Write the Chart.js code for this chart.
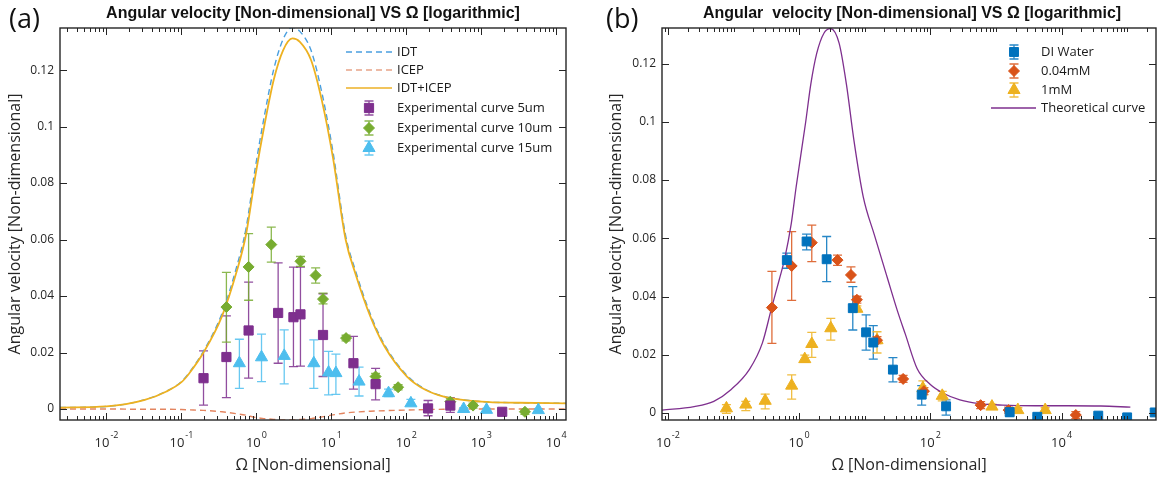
<!DOCTYPE html>
<html>
<head>
<meta charset="utf-8">
<title>Angular velocity vs Omega</title>
<script src="https://cdn.jsdelivr.net/npm/chart.js@4.4.1/dist/chart.umd.min.js"></script>
<style>
  html, body { margin: 0; padding: 0; background: #fff; }
  #page { position: relative; width: 1164px; height: 478px; overflow: hidden; }
  .box { position: absolute; top: 0; width: 582px; height: 478px; }
  .tag { position: absolute; top: -1px; font: 27px "Open Sans", sans-serif; color: #111; }
  .ttl { position: absolute; top: 4px; font: bold 16px "Liberation Sans", Arial, sans-serif; color: #111; white-space: pre; transform: translateX(-50%); }
</style>
</head>
<body>
<div id="page">
  <div class="box" style="left:0"><canvas id="chartA" width="582" height="478"></canvas></div>
  <div class="box" style="left:582px"><canvas id="chartB" width="582" height="478"></canvas></div>
  <div class="tag" style="left:9px">(a)</div>
  <div class="tag" style="left:606px">(b)</div>
  <div class="ttl" style="left:313px">Angular velocity [Non-dimensional] VS Ω [logarithmic]</div>
  <div class="ttl" style="left:912px">Angular  velocity [Non-dimensional] VS Ω [logarithmic]</div>
</div>
<script>
// ---------- panel (a) : theory curves ----------
const omegaTheoryA = [0.0024, 0.01, 0.0316, 0.0631, 0.1, 0.126, 0.195, 0.347, 0.55, 0.724, 0.966, 1.29, 1.70, 2.27, 3.02, 3.80, 5.37, 7.50, 10.5, 15.5, 20.9, 33.1, 51.3, 102, 182, 316, 1000, 3160, 13500];
const idtA = [0.0005, 0.0009, 0.0032, 0.0063, 0.0097, 0.0128, 0.0203, 0.0338, 0.0507, 0.0637, 0.0854, 0.1044, 0.1202, 0.1309, 0.1351, 0.1337, 0.1269, 0.1118, 0.0911, 0.0614, 0.0491, 0.0336, 0.0227, 0.0119, 0.0069, 0.0045, 0.0026, 0.0022, 0.002];
const icepA = [0, 0, -0.0001, -0.0001, -0.0002, -0.0003, -0.0005, -0.001, -0.0017, -0.0022, -0.003, -0.0034, -0.0037, -0.0039, -0.0039, -0.0037, -0.0034, -0.0028, -0.0021, -0.0014, -0.0011, -0.0008, -0.0006, -0.0004, -0.0002, -0.0001, 0, 0, 0];
const idtIcepA = [0.0005, 0.0009, 0.0031, 0.0062, 0.0095, 0.0125, 0.0198, 0.0328, 0.049, 0.0615, 0.0824, 0.101, 0.1165, 0.127, 0.1312, 0.130, 0.1235, 0.109, 0.089, 0.060, 0.048, 0.0328, 0.0221, 0.0115, 0.0067, 0.0044, 0.0026, 0.0022, 0.002];

// ---------- panel (a) : experiments ----------
const omega5 = [0.197, 0.398, 0.787, 1.95, 3.12, 3.87, 7.74, 19.7, 38.9, 195, 386, 1900];
const vel5 = [0.0109, 0.0184, 0.0278, 0.034, 0.0325, 0.0335, 0.0262, 0.0162, 0.0088, 0.0002, 0.0012, -0.0010];
const vel5Lo = [0.0014, 0.0040, 0.0109, 0.0162, 0.0150, 0.0152, 0.0115, 0.0070, 0.0032, -0.0024, -0.0012, -0.0014];
const vel5Hi = [0.0206, 0.0330, 0.0449, 0.0517, 0.0502, 0.0502, 0.0408, 0.0257, 0.0144, 0.0030, 0.0040, -0.0006];

const omega10 = [0.398, 0.787, 1.58, 3.87, 6.17, 7.74, 15.7, 38.9, 77.7, 386, 776, 3820];
const vel10 = [0.0361, 0.0503, 0.0582, 0.0523, 0.0473, 0.0389, 0.0251, 0.0115, 0.0077, 0.0026, 0.0012, -0.0010];
const vel10Lo = [0.0237, 0.0385, 0.0520, 0.0505, 0.0446, 0.0372, 0.0241, 0.0104, 0.0068, 0.0015, 0.0003, -0.0019];
const vel10Hi = [0.0484, 0.0621, 0.0644, 0.0540, 0.0500, 0.0410, 0.0261, 0.0126, 0.0086, 0.0037, 0.0021, -0.0001];

const omega15 = [0.593, 1.17, 2.35, 5.83, 9.18, 11.5, 23.4, 57.9, 115, 582, 1175, 5770];
const vel15 = [0.0162, 0.0183, 0.0188, 0.0162, 0.0129, 0.0127, 0.0097, 0.0056, 0.0020, 0.0000, -0.0003, -0.0004];
const vel15Lo = [0.0073, 0.0097, 0.0089, 0.0073, 0.0050, 0.0052, 0.0046, 0.0044, 0.0012, -0.0005, -0.0008, -0.0009];
const vel15Hi = [0.0247, 0.0265, 0.0280, 0.0245, 0.0204, 0.0194, 0.0148, 0.0070, 0.0034, 0.0005, 0.0002, 0.0001];

// ---------- panel (b) ----------
const omegaTheoryB = [0.00813, 0.0251, 0.0501, 0.0912, 0.175, 0.275, 0.380, 0.501, 0.603, 0.759, 0.902, 1.25, 1.51, 1.85, 2.40, 3.02, 4.07, 5.25, 6.84, 9.48, 14.1, 22.4, 31.6, 41.7, 63.1, 100, 158, 282, 562, 1260, 3980, 12600, 39800, 112000];
const theoryB = [0.0010, 0.0022, 0.0040, 0.0080, 0.0150, 0.0240, 0.0360, 0.0460, 0.0530, 0.0650, 0.0777, 0.0994, 0.1130, 0.1234, 0.1305, 0.1320, 0.1270, 0.1130, 0.0937, 0.0743, 0.0610, 0.0460, 0.0350, 0.0270, 0.0152, 0.0098, 0.0068, 0.0045, 0.0032, 0.0027, 0.0025, 0.0025, 0.0024, 0.0020];

const omegaDI = [0.65, 1.30, 2.63, 6.58, 10.5, 13.5, 26.9, 73.9, 174, 1620, 4270, 36300, 100000, 263000];
const velDI = [0.0525, 0.0589, 0.0528, 0.0360, 0.0277, 0.0242, 0.0149, 0.0063, 0.0023, 0.0003, -0.0013, -0.0009, -0.0015, 0.0002];
const velDILo = [0.0497, 0.0560, 0.0451, 0.0285, 0.0216, 0.0185, 0.0107, 0.0027, -0.0007, -0.0012, -0.0018, -0.0014, -0.0020, -0.0003];
const velDIHi = [0.0549, 0.0614, 0.0606, 0.0434, 0.0337, 0.0300, 0.0190, 0.0094, 0.0045, 0.0018, -0.0008, -0.0004, -0.0010, 0.0007];

const omega004 = [0.385, 0.77, 1.56, 3.85, 6.17, 7.6, 15.4, 38.5, 80, 585, 1560, 16500];
const vel004 = [0.0362, 0.0505, 0.0585, 0.0525, 0.0474, 0.0389, 0.0250, 0.0117, 0.0075, 0.0027, 0.0010, -0.0007];
const vel004Lo = [0.0239, 0.0387, 0.0520, 0.0507, 0.0449, 0.0377, 0.0238, 0.0105, 0.0063, 0.0015, 0.0000, -0.0019];
const vel004Hi = [0.0486, 0.0623, 0.0645, 0.0542, 0.0502, 0.0401, 0.0262, 0.0129, 0.0087, 0.0039, 0.0020, 0.0005];

const omega1 = [0.078, 0.154, 0.304, 0.77, 1.22, 1.56, 3.04, 7.6, 15.4, 77, 152, 870, 2160, 5630];
const vel1 = [0.0016, 0.0029, 0.0042, 0.0094, 0.0185, 0.0237, 0.0291, 0.0358, 0.0250, 0.0085, 0.0059, 0.0022, 0.0010, 0.0010];
const vel1Lo = [-0.0001, 0.0008, 0.0014, 0.0048, 0.0174, 0.0191, 0.0250, 0.0348, 0.0206, 0.0060, 0.0042, 0.0014, 0.0002, 0.0002];
const vel1Hi = [0.0029, 0.0040, 0.0065, 0.0131, 0.0199, 0.0277, 0.0325, 0.0368, 0.0279, 0.0110, 0.0074, 0.0030, 0.0018, 0.0018];

// ---------- ticks ----------
const yTicksA = [0, 0.02, 0.04, 0.06, 0.08, 0.1, 0.12];
const yTicksB = [0, 0.02, 0.04, 0.06, 0.08, 0.1, 0.12];
const xMajorA = [-2, -1, 0, 1, 2, 3, 4];   // labelled decades (10^n)
const xMajorB = [-2, 0, 2, 4];

const FONT = '"Open Sans", sans-serif';
const INK = '#262626';

function pts(xs, ys) {
    return xs.map((x, i) => ({ x: x, y: ys[i] }));
}

// minor/major tick positions 1..9 x 10^n inside the axis range
function logTickList(min, max) {
    const out = [];
    for (let e = Math.floor(Math.log10(min)); e <= Math.ceil(Math.log10(max)); e++) {
        for (let m = 1; m < 10; m++) {
            const v = m * Math.pow(10, e);
            if (v >= min && v <= max) out.push({ value: v });
        }
    }
    return out;
}

function curve(xs, ys, color, width, dash) {
    return {
        data: pts(xs, ys), showLine: true, borderColor: color, borderWidth: width,
        borderDash: dash || [], pointRadius: 0, cubicInterpolationMode: 'monotone', order: 2
    };
}

function points(xs, ys, lo, hi, color, style, r) {
    return {
        data: pts(xs, ys), showLine: false, pointStyle: style, pointRadius: r,
        backgroundColor: color, borderColor: color, borderWidth: 1,
        errLo: lo, errHi: hi, errColor: color, order: 1
    };
}

function drawMarker(ctx, style, x, y, r) {
    ctx.beginPath();
    if (style === 'rect') {
        const s = r * Math.SQRT1_2;
        ctx.rect(x - s, y - s, 2 * s, 2 * s);
    } else if (style === 'rectRot') {
        ctx.moveTo(x, y - r); ctx.lineTo(x + r, y); ctx.lineTo(x, y + r); ctx.lineTo(x - r, y); ctx.closePath();
    } else {
        ctx.moveTo(x, y - r); ctx.lineTo(x + r * 0.866, y + r / 2); ctx.lineTo(x - r * 0.866, y + r / 2); ctx.closePath();
    }
    ctx.fill();
    ctx.stroke();
}

function errBar(ctx, x, y1, y2, cap) {
    ctx.beginPath();
    ctx.moveTo(x, y1); ctx.lineTo(x, y2);
    ctx.moveTo(x - cap, y1); ctx.lineTo(x + cap, y1);
    ctx.moveTo(x - cap, y2); ctx.lineTo(x + cap, y2);
    ctx.stroke();
}

// error bars, drawn through the chart scales
const errorBars = {
    id: 'errorBars',
    beforeDatasetsDraw(chart) {
        const { ctx, chartArea: a } = chart;
        const xs = chart.scales.x, ys = chart.scales.y;
        ctx.save();
        ctx.beginPath();
        ctx.rect(a.left, a.top, a.right - a.left, a.bottom - a.top);
        ctx.clip();
        chart.data.datasets.forEach(ds => {
            if (!ds.errLo) return;
            ctx.strokeStyle = ds.errColor;
            ctx.globalAlpha = 0.85;
            ctx.lineWidth = 1.3;
            ds.data.forEach((p, j) => {
                const px = xs.getPixelForValue(p.x);
                errBar(ctx, px, ys.getPixelForValue(ds.errLo[j]), ys.getPixelForValue(ds.errHi[j]), 4.5);
            });
        });
        ctx.restore();
    }
};

// matlab style box with inner ticks and 10^n labels
const frameTicks = {
    id: 'frameTicks',
    afterDatasetsDraw(chart, args, opts) {
        const { ctx, chartArea: a } = chart;
        const xs = chart.scales.x, ys = chart.scales.y;
        ctx.save();
        ctx.strokeStyle = INK;
        ctx.lineWidth = 1;
        ctx.beginPath();
        xs.ticks.forEach(t => {
            const e = Math.log10(t.value);
            const major = opts.majors.some(m => Math.abs(m - e) < 1e-6);
            const len = major ? 7 : 4;
            const px = Math.round(xs.getPixelForValue(t.value)) + 0.5;
            ctx.moveTo(px, a.bottom); ctx.lineTo(px, a.bottom - len);
            ctx.moveTo(px, a.top); ctx.lineTo(px, a.top + len);
        });
        ys.ticks.forEach(t => {
            const py = Math.round(ys.getPixelForValue(t.value)) + 0.5;
            ctx.moveTo(a.left, py); ctx.lineTo(a.left + 7, py);
            ctx.moveTo(a.right, py); ctx.lineTo(a.right - 7, py);
        });
        ctx.stroke();
        ctx.lineWidth = 1.4;
        ctx.strokeRect(a.left, a.top, a.right - a.left, a.bottom - a.top);

        ctx.fillStyle = INK;
        ctx.textBaseline = 'middle';
        ctx.textAlign = 'left';
        opts.majors.forEach(e => {
            const px = xs.getPixelForValue(Math.pow(10, e));
            ctx.font = '13px ' + FONT;
            const wB = ctx.measureText('10').width;
            ctx.font = '9px ' + FONT;
            const ex = (e < 0 ? '-' : '') + Math.abs(e);
            const wE = ctx.measureText(ex).width;
            const x0 = px - (wB + wE + 1) / 2;
            ctx.font = '13px ' + FONT;
            ctx.fillText('10', x0, a.bottom + 23);
            ctx.font = '9px ' + FONT;
            ctx.fillText(ex, x0 + wB + 1, a.bottom + 15);
        });
        ctx.restore();
    }
};

// legend inside the plot area
const boxLegend = {
    id: 'boxLegend',
    afterDraw(chart, args, opts) {
        const ctx = chart.ctx;
        ctx.save();
        opts.items.forEach(it => {
            ctx.strokeStyle = it.color;
            ctx.fillStyle = it.color;
            if (it.kind === 'line') {
                ctx.lineWidth = it.width;
                ctx.setLineDash(it.dash || []);
                ctx.beginPath();
                ctx.moveTo(opts.lineX0, it.y); ctx.lineTo(opts.lineX1, it.y);
                ctx.stroke();
                ctx.setLineDash([]);
            } else {
                ctx.lineWidth = 1.3;
                ctx.globalAlpha = 0.85;
                errBar(ctx, opts.markX, it.y - 7, it.y + 7, 4.5);
                ctx.globalAlpha = 1;
                ctx.lineWidth = 1;
                drawMarker(ctx, it.style, opts.markX, it.y, it.r);
            }
            ctx.fillStyle = '#1a1a1a';
            ctx.font = '13px ' + FONT;
            ctx.textBaseline = 'middle';
            ctx.fillText(it.text, opts.textX, it.y);
        });
        ctx.restore();
    }
};

function baseOptions(cfg) {
    return {
        responsive: false,
        animation: false,
        events: [],
        layout: { padding: { top: 28, right: cfg.padRight, left: 0, bottom: 0 } },
        plugins: {
            legend: { display: false },
            tooltip: { enabled: false },
            frameTicks: { majors: cfg.majors },
            boxLegend: cfg.legend
        },
        scales: {
            x: {
                type: 'logarithmic',
                min: cfg.xMin, max: cfg.xMax,
                afterBuildTicks: s => { s.ticks = logTickList(cfg.xMin, cfg.xMax); },
                afterFit: s => { s.height = 58; },
                grid: { display: false, drawTicks: false },
                border: { display: false },
                ticks: { display: false },
                title: {
                    display: true, text: 'Ω [Non-dimensional]', color: INK,
                    font: { family: FONT, size: 16 }, padding: { top: 0, bottom: 3 }
                }
            },
            y: {
                min: cfg.yMin, max: cfg.yMax,
                afterBuildTicks: s => { s.ticks = cfg.yTicks.map(v => ({ value: v })); },
                afterFit: s => { s.width = cfg.yWidth; },
                grid: { display: false, drawTicks: false },
                border: { display: false },
                ticks: {
                    padding: 6, color: INK, font: { family: FONT, size: 12 },
                    callback: v => String(+v.toFixed(2))
                },
                title: {
                    display: true, text: 'Angular velocity [Non-dimensional]', color: INK,
                    font: { family: FONT, size: 16 }, padding: { top: cfg.yTitlePad, bottom: 0 }
                }
            }
        }
    };
}

new Chart(document.getElementById('chartA'), {
    type: 'scatter',
    data: {
        datasets: [
            points(omega5, vel5, vel5Lo, vel5Hi, '#7E2F8E', 'rect', 6.5),
            points(omega10, vel10, vel10Lo, vel10Hi, '#77AC30', 'rectRot', 5.5),
            points(omega15, vel15, vel15Lo, vel15Hi, '#4DBEEE', 'triangle', 7),
            curve(omegaTheoryA, idtIcepA, '#EDB120', 1.8),
            curve(omegaTheoryA, icepA, '#E38560', 1.4, [6, 4]),
            curve(omegaTheoryA, idtA, '#4A9FDF', 1.4, [6, 4])
        ]
    },
    options: baseOptions({
        padRight: 16, yWidth: 60, yTitlePad: 6,
        xMin: Math.pow(10, -2.62), xMax: Math.pow(10, 4.13),
        yMin: -0.0039, yMax: 0.1349, yTicks: yTicksA, majors: xMajorA,
        legend: {
            lineX0: 346, lineX1: 392, markX: 369, textX: 397,
            items: [
                { kind: 'line', text: 'IDT', color: '#4A9FDF', width: 1.4, dash: [6, 4], y: 52 },
                { kind: 'line', text: 'ICEP', color: '#E8A488', width: 1.4, dash: [6, 4], y: 70 },
                { kind: 'line', text: 'IDT+ICEP', color: '#F1C45C', width: 2, y: 88 },
                { kind: 'marker', text: 'Experimental curve 5um', color: '#7E2F8E', style: 'rect', r: 6.5, y: 108 },
                { kind: 'marker', text: 'Experimental curve 10um', color: '#77AC30', style: 'rectRot', r: 5.5, y: 128 },
                { kind: 'marker', text: 'Experimental curve 15um', color: '#4DBEEE', style: 'triangle', r: 7, y: 148 }
            ]
        }
    }),
    plugins: [errorBars, frameTicks, boxLegend]
});

new Chart(document.getElementById('chartB'), {
    type: 'scatter',
    data: {
        datasets: [
            points(omegaDI, velDI, velDILo, velDIHi, '#0072BD', 'rect', 6.3),
            points(omega004, vel004, vel004Lo, vel004Hi, '#D95319', 'rectRot', 5.5),
            points(omega1, vel1, vel1Lo, vel1Hi, '#EDB120', 'triangle', 7),
            curve(omegaTheoryB, theoryB, '#7E2F8E', 1.3)
        ]
    },
    options: baseOptions({
        padRight: 1, yWidth: 80, yTitlePad: 25,
        xMin: Math.pow(10, -2.09), xMax: Math.pow(10, 5.44),
        yMin: -0.0024, yMax: 0.1322, yTicks: yTicksB, majors: xMajorB,
        legend: {
            lineX0: 409, lineX1: 454, markX: 432, textX: 459,
            items: [
                { kind: 'marker', text: 'DI Water', color: '#0072BD', style: 'rect', r: 6.3, y: 52 },
                { kind: 'marker', text: '0.04mM', color: '#D95319', style: 'rectRot', r: 5.5, y: 71 },
                { kind: 'marker', text: '1mM', color: '#EDB120', style: 'triangle', r: 7, y: 90 },
                { kind: 'line', text: 'Theoretical curve', color: '#7E2F8E', width: 1.3, y: 108 }
            ]
        }
    }),
    plugins: [errorBars, frameTicks, boxLegend]
});
</script>
</body>
</html>
